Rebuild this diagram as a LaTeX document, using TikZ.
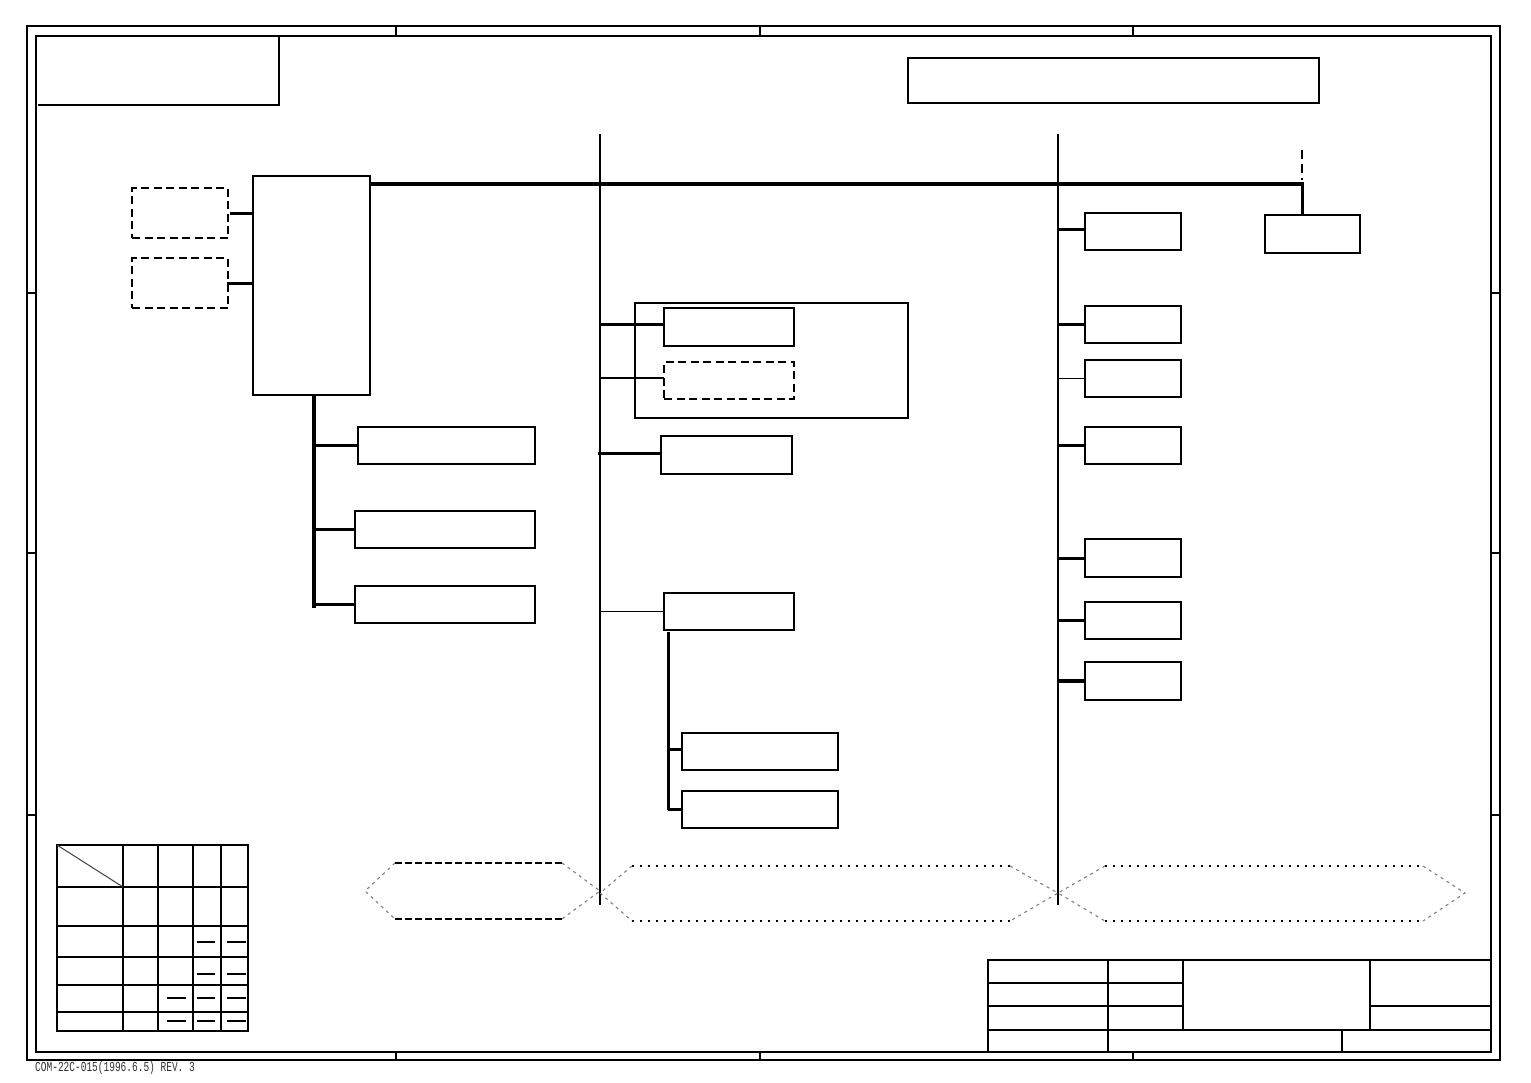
\documentclass[tikz,border=0pt]{standalone}
\usepackage{fontspec}
\newfontfamily\footfont{Liberation Mono}
\usetikzlibrary{fit}
\tikzset{
  frame/.style={line width=1.6pt},
  box/.style={draw, line width=1.4pt, inner sep=0pt, outer sep=0pt},
  dbox/.style={box, line width=1.3pt, dash pattern=on 8pt off 4.5pt},
  thin conn/.style={line width=1.4pt},
  thk conn/.style={line width=3pt},
  bus/.style={line width=4.5pt},
  hexdash/.style={line width=1.2pt, dash pattern=on 7pt off 3pt},
  hexdot/.style={line width=1.2pt, dash pattern=on 2pt off 6pt},
  hexside/.style={line width=1.1pt, black!50, dash pattern=on 3pt off 4pt},
}
\begin{document}
\begin{tikzpicture}[x=1pt,y=-1pt]
\useasboundingbox (0,0) rectangle (1531,1082);
\fill[white] (0,0) rectangle (1531,1082);

% ---------- frame ----------
\draw[frame] (27,26) rectangle (1500,1060);
\draw[frame] (36,36) rectangle (1491,1052);
\foreach \x in {396,760,1133} {
  \draw[frame] (\x,26) -- (\x,36);
  \draw[frame] (\x,1052) -- (\x,1060);
}
\foreach \y in {293,553,815} {
  \draw[frame] (27,\y) -- (36,\y);
  \draw[frame] (1491,\y) -- (1500,\y);
}
% top-left box
\draw[frame] (38,105) -- (279,105) -- (279,36);
% title box top right
\node[box, fit={(908,58) (1319,103)}] (title) {};

% ---------- column dividers ----------
\coordinate (c1top) at (600,134);
\coordinate (c1bot) at (600,905);
\coordinate (c2top) at (1058,134);
\coordinate (c2bot) at (1058,905);
\draw[thin conn] (c1top) -- (c1bot);
\draw[thin conn] (c2top) -- (c2bot);

% ---------- left column ----------
\node[box, fit={(253,176) (370,395)}] (main) {};
\node[dbox, fit={(132,188) (228,238)}] (d1) {};
\node[dbox, fit={(132,258) (228,308)}] (d2) {};
\draw[thk conn] ([xshift=2pt]d1.east) -- (d1.east -| main.west);
\draw[thk conn] ([xshift=-1pt]d2.east) -- (d2.east -| main.west);

\node[box, fit={(358,427) (535,464)}] (l1) {};
\node[box, fit={(355,511) (535,548)}] (l2) {};
\node[box, fit={(355,586) (535,623)}] (l3) {};
\coordinate (lvtop) at (314,395);
\coordinate (lvbot) at (314,608);
\draw[bus] (lvtop) -- (lvbot);
\draw[thk conn] (l1.west) -- (l1.west -| lvtop);
\draw[thk conn] (l2.west) -- ([xshift=-2pt]l2.west -| lvtop);
\draw[line width=3.6pt] (l3.west) -- ([xshift=-2pt]l3.west -| lvtop);

% ---------- main bus ----------
\coordinate (busend) at (1304,184);
\coordinate (dashtop) at (1302,150);
\coordinate (dashbot) at (1302,180);
\node[box, fit={(1265,215) (1360,253)}] (rt) {};
\draw[bus] (main.east |- busend) -- (busend);
\draw[line width=3.5pt] ([xshift=-1.5pt]busend) -- ([xshift=-1.5pt]busend |- rt.north);
\draw[thin conn, dash pattern=on 9pt off 5pt] (dashtop) -- (dashbot);

% ---------- middle column ----------
\node[box, fit={(635,303) (908,418)}] (grp) {};
\node[box, fit={(664,308) (794,346)}] (m1) {};
\node[dbox, fit={(664,362) (794,399)}] (m2) {};
\node[box, fit={(661,436) (792,474)}] (m3) {};
\node[box, fit={(664,593) (794,630)}] (m4) {};
\node[box, fit={(682,733) (838,770)}] (m5) {};
\node[box, fit={(682,791) (838,828)}] (m6) {};
\draw[thk conn] ([yshift=3pt]m1.west) -- ([yshift=3pt]m1.west -| c1top);
\draw[thin conn] ([yshift=2.5pt]m2.west) -- ([yshift=2.5pt]m2.west -| c1top);
\draw[thk conn] ([yshift=2pt]m3.west) -- ([xshift=-2pt,yshift=2pt]m3.west -| c1top);
\draw[thin conn] (m4.west) -- (m4.west -| c1top);
\coordinate (mvtop) at (668,632);
\coordinate (mvbot) at (668,810);
\draw[thk conn] (mvtop) -- (mvbot);
\draw[thk conn] ([yshift=2.5pt]m5.west) -- ([yshift=2.5pt]m5.west -| mvtop);
\draw[line width=3.6pt] (m6.west) -- (m6.west -| mvtop);

% ---------- right column ----------
\node[box, fit={(1085,213) (1181,250)}] (r1) {};
\node[box, fit={(1085,306) (1181,343)}] (r2) {};
\node[box, fit={(1085,360) (1181,397)}] (r3) {};
\node[box, fit={(1085,427) (1181,464)}] (r4) {};
\node[box, fit={(1085,539) (1181,577)}] (r5) {};
\node[box, fit={(1085,602) (1181,639)}] (r6) {};
\node[box, fit={(1085,662) (1181,700)}] (r7) {};
\draw[thk conn] ([yshift=2.5pt]r1.west) -- ([yshift=2.5pt]r1.west -| c2top);
\draw[thk conn] (r2.west) -- (r2.west -| c2top);
\draw[thin conn] (r3.west) -- (r3.west -| c2top);
\draw[thk conn] (r4.west) -- (r4.west -| c2top);
\draw[thk conn] (r5.west) -- (r5.west -| c2top);
\draw[thk conn] (r6.west) -- (r6.west -| c2top);
\draw[line width=3.8pt] (r7.west) -- (r7.west -| c2top);

% ---------- hexagons ----------
\draw[hexdash] (395,863) -- (562,863);
\draw[hexdash] (395,919) -- (562,919);
\draw[hexside] (395,863) -- (365,891) -- (395,919);
\draw[hexside] (562,863) -- (600,891) -- (562,919);

\draw[hexdot] (632,866) -- (1010,866);
\draw[hexdot] (632,921) -- (1010,921);
\draw[hexside] (632,866) -- (600,893) -- (632,921);
\draw[hexside] (1010,866) -- (1058,893) -- (1010,921);

\draw[hexdot] (1105,866) -- (1423,866);
\draw[hexdot] (1105,921) -- (1423,921);
\draw[hexside] (1105,866) -- (1058,893) -- (1105,921);
\draw[hexside] (1423,866) -- (1465,893) -- (1423,921);

% ---------- bottom-left table ----------
\draw[frame] (57,845) rectangle (248,1031);
\foreach \x in {123,158,193,221} \draw[frame] (\x,845) -- (\x,1031);
\foreach \y in {887,926,957,985,1012} \draw[frame] (57,\y) -- (248,\y);
\draw[line width=1pt, black!75] (57,845) -- (123,887);
\draw[line width=1.4pt] (197,942) -- (215,942);
\draw[line width=1.4pt] (227,942) -- (246,942);
\draw[line width=2.8pt] (197,974) -- (215,974);
\draw[line width=2.8pt] (227,974) -- (246,974);
\foreach \y in {998,1021} {
  \draw[line width=1.4pt] (167,\y) -- (186,\y);
  \draw[line width=1.4pt] (197,\y) -- (215,\y);
  \draw[line width=1.4pt] (227,\y) -- (246,\y);
}

% ---------- title block ----------
\draw[frame] (988,960) rectangle (1491,1052);
\draw[frame] (988,983) -- (1183,983);
\draw[frame] (988,1006) -- (1183,1006);
\draw[frame] (988,1030) -- (1491,1030);
\draw[frame] (1108,960) -- (1108,1052);
\draw[frame] (1183,960) -- (1183,1030);
\draw[frame] (1370,960) -- (1370,1030);
\draw[frame] (1370,1006) -- (1491,1006);
\draw[frame] (1342,1030) -- (1342,1052);

% ---------- footer ----------
\node[anchor=base west, inner sep=0pt, font=\footfont\fontsize{9.5}{10}\selectfont, text=black!80] (foot) at (35,1071) {\scalebox{1}[1.45]{COM-22C-015(1996.6.5) REV. 3}};
\end{tikzpicture}
\end{document}
